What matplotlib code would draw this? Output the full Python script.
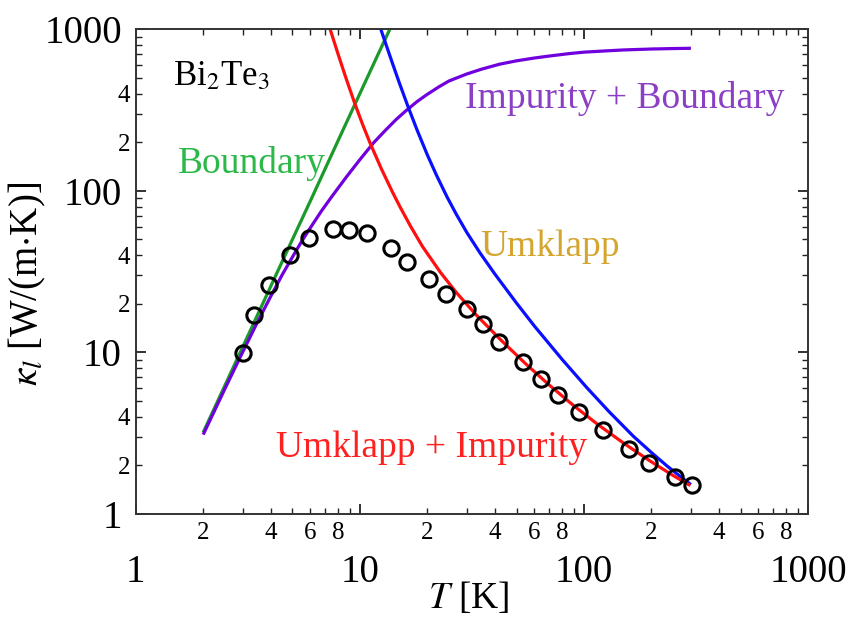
import numpy as np
import matplotlib
matplotlib.use("Agg")
import matplotlib.pyplot as plt
from matplotlib.ticker import LogLocator, FuncFormatter

plt.rcParams['font.family'] = ['Liberation Serif', 'DejaVu Serif']
plt.rcParams['mathtext.fontset'] = 'stix'

# Measured lattice thermal conductivity of Bi2Te3
T_meas = [3.0, 3.37, 3.95, 4.89, 5.9, 7.62, 8.96, 10.8, 13.7, 16.2, 20.3, 24.2,
          30.0, 35.4, 41.9, 53.2, 64.3, 76.5, 94.6, 121.6, 159, 196, 256, 303]
k_meas = [9.96, 17.0, 26.1, 40.1, 51.3, 57.8, 57.2, 54.6, 44.1, 36.4, 28.4, 23.0,
          18.5, 15.0, 11.6, 8.75, 6.82, 5.45, 4.26, 3.31, 2.51, 2.06, 1.70, 1.51]

# Boundary scattering only
T_bound = [2, 3, 4, 5, 6, 8, 10, 12, 13.6]
k_bound = [3.2, 10.8, 25.6, 50, 86, 205, 400, 690, 1000]

# Impurity + boundary scattering
T_ib = [2, 2.5, 3, 3.5, 4, 4.5, 5, 5.5, 6, 6.75, 7.5, 8.75, 10, 11.5, 13, 14.5,
        16, 18, 20, 22.5, 25, 30, 35, 42, 50, 60, 70, 85, 100, 125, 150, 200,
        250, 300]
k_ib = [3.1, 5.96, 10.05, 15.5, 22.2, 30.2, 38.9, 48.7, 58.8, 75.3, 92.3, 123,
        156, 198, 237, 276, 312, 357, 396, 440, 479, 529, 567, 608, 638, 664,
        683, 706, 722, 735, 745, 755, 760, 763]

# Umklapp scattering only
T_umk = [12.2, 13, 14, 15, 16.3, 18, 20, 22, 24.5, 27, 30, 34.4, 40, 50, 60, 80,
         103, 130, 166, 200, 235, 270, 300]
k_umk = [1071, 826, 612, 466, 340, 238, 167, 124.5, 91.6, 71.2, 55.3, 41.2, 30.6,
         20.2, 14.6, 9.03, 6.05, 4.27, 3.03, 2.4, 1.98, 1.7, 1.52]

# Umklapp + impurity scattering
T_ui = [7.37, 8, 8.7, 9.5, 10.3, 11.1, 12.5, 14, 15.1, 16.8, 19, 22.8, 27, 33,
        42.4, 55, 70, 89.7, 115, 150, 198, 250, 298]
k_ui = [1000, 700, 492, 346, 256.5, 198, 136, 97.9, 79.7, 60.7, 45.4, 31.5, 23.4,
        17.1, 12.0, 8.49, 6.28, 4.70, 3.59, 2.75, 2.12, 1.73, 1.50]

fig = plt.figure(figsize=(8.5, 6.18), dpi=100)
ax = fig.add_axes([0.1597, 0.1683, 0.791, 0.7843])

lw = 2.3
ax.plot(T_bound, k_bound, color='#1a9a2a', lw=lw, solid_capstyle='butt')
ax.plot(T_ib, k_ib, color='#7000dd', lw=lw, solid_capstyle='butt')
ax.plot(T_umk, k_umk, color='#0a10ff', lw=lw, solid_capstyle='butt')
ax.plot(T_ui, k_ui, color='#ff1010', lw=lw, solid_capstyle='butt')
ax.plot(T_meas, k_meas, linestyle='none', marker='o', markersize=11,
        markerfacecolor='none', markeredgecolor='black', markeredgewidth=2.2)

ax.set_xscale('log')
ax.set_yscale('log')
ax.set_xlim(1, 1000)
ax.set_ylim(1, 1000)


def major_fmt(v, pos):
    return '%d' % round(v)


def minor_fmt_factory(keep):
    def fmt(v, pos):
        if v <= 0:
            return ''
        m = v / 10 ** np.floor(np.log10(v) + 1e-9)
        m = int(round(m))
        return str(m) if m in keep else ''
    return fmt


for axis in (ax.xaxis, ax.yaxis):
    axis.set_major_locator(LogLocator(base=10, numticks=10))
    axis.set_minor_locator(LogLocator(base=10, subs=np.arange(2, 10), numticks=10))
    axis.set_major_formatter(FuncFormatter(major_fmt))

ax.xaxis.set_minor_formatter(FuncFormatter(minor_fmt_factory({2, 4, 6, 8})))
ax.yaxis.set_minor_formatter(FuncFormatter(minor_fmt_factory({2, 4})))

ax.tick_params(which='both', direction='in', top=True, right=True, color='#222222')
ax.tick_params(which='major', length=7, width=1.3)
ax.tick_params(which='minor', length=4, width=1.0)
ax.tick_params(axis='x', which='minor', labelsize=18, pad=6)
ax.tick_params(axis='x', which='major', labelsize=28, pad=29)
ax.tick_params(axis='y', which='minor', labelsize=18, pad=4)
ax.tick_params(axis='y', which='major', labelsize=28, pad=10)

for sp in ax.spines.values():
    sp.set_linewidth(1.4)
    sp.set_color('#333333')

ax.set_xlabel(r'$T$ [K]', fontsize=27, labelpad=0)
ax.set_ylabel(r'$\kappa_l$ [W/(m$\cdot$K)]', fontsize=28)
ax.xaxis.set_label_coords(0.495, -0.136)
ax.yaxis.set_label_coords(-0.131, 0.475)

ax.text(0.0555, 0.885, r'Bi$_2$Te$_3$', transform=ax.transAxes, fontsize=25,
        color='black', ha='left', va='baseline')
ax.text(0.063, 0.7035, 'Boundary', transform=ax.transAxes, fontsize=27,
        color='#2db84a', ha='left', va='baseline')
ax.text(0.489, 0.837, 'Impurity + Boundary', transform=ax.transAxes, fontsize=27,
        color='#8a3fc4', ha='left', va='baseline')
ax.text(0.512, 0.532, 'Umklapp', transform=ax.transAxes, fontsize=27,
        color='#d4a630', ha='left', va='baseline')
ax.text(0.209, 0.118, 'Umklapp + Impurity', transform=ax.transAxes, fontsize=27,
        color='#ff2020', ha='left', va='baseline')

fig.savefig('out.png', dpi=100)
